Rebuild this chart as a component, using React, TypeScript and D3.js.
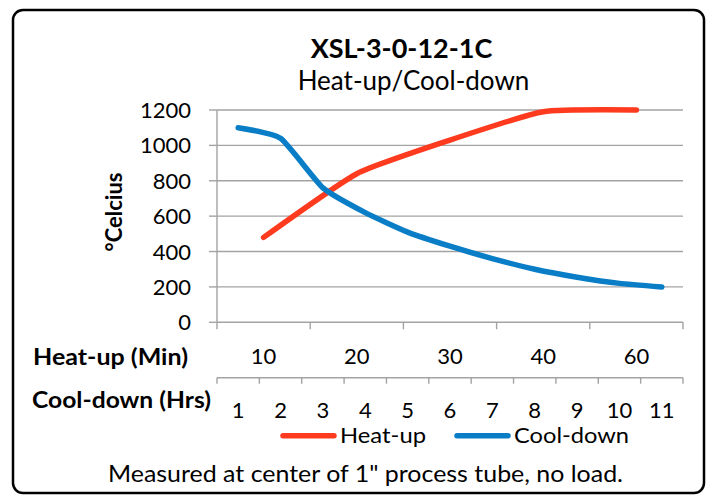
import React from 'react';
import * as d3 from 'd3';

const heatLabels = ['10', '20', '30', '40', '60'];
const heatValues = [480, 840, 1030, 1190, 1200];
const coolLabels = ['1', '2', '3', '4', '5', '6', '7', '8', '9', '10', '11'];
const coolValues = [1100, 1040, 760, 620, 510, 430, 360, 300, 255, 220, 200];
const yTicks = [0, 200, 400, 600, 800, 1000, 1200];

const RED = '#ff3b1f';
const BLUE = '#0a7dc7';
const GRID = '#a3a3a3';
const FONT = 'Lato, "Open Sans", sans-serif';

export default function App() {
  const left = 217, right = 683;
  const y = d3.scaleLinear().domain([0, 1200]).range([322.3, 110]);
  const xHeat = d3.scaleBand().domain(heatLabels).range([left, right]);
  const xCool = d3.scaleBand().domain(coolLabels).range([left, right]);

  // Excel-ish smoothed line: loose cardinal spline
  const line = d3.line<[number, number]>()
    .x(d => d[0])
    .y(d => d[1])
    .curve(d3.curveCardinal.tension(0.5));

  const heatPts: [number, number][] = heatLabels.map((l, i) => [xHeat(l)! + xHeat.bandwidth() / 2, y(heatValues[i])]);
  const coolPts: [number, number][] = coolLabels.map((l, i) => [xCool(l)! + xCool.bandwidth() / 2, y(coolValues[i])]);

  const heatTicks = [...heatLabels.map(l => xHeat(l)!), right];
  const coolTicks = [...coolLabels.map(l => xCool(l)!), right];
  const axis2 = 377.7;

  return (
    <svg width={709} height={495} style={{ position: 'absolute', left: 0, top: 0, fontFamily: FONT }}>
      <rect x={13} y={10} width={691} height={483} rx={10} fill="#fff" stroke="#000" strokeWidth={2.5} />

      <text x={401.5} y={58} textAnchor="middle" fontSize={27} fontWeight="bold">XSL-3-0-12-1C</text>
      <text x={413.5} y={90} textAnchor="middle" fontSize={26}>Heat-up/Cool-down</text>

      {/* grid + y axis */}
      {yTicks.filter(t => t > 0).map(t => (
        <line key={t} x1={left} x2={right} y1={y(t)} y2={y(t)} stroke={GRID} strokeWidth={1.4} />
      ))}
      <line x1={left} x2={left} y1={y(1200)} y2={y(0)} stroke={GRID} strokeWidth={1.4} />
      {yTicks.map(t => (
        <g key={t}>
          <line x1={left - 8} x2={left} y1={y(t)} y2={y(t)} stroke={GRID} strokeWidth={1.4} />
          <text x={191} y={y(t) + 8} textAnchor="end" fontSize={22}>{t}</text>
        </g>
      ))}
      <text transform="translate(122,212) rotate(-90)" textAnchor="middle" fontSize={22} fontWeight="bold">°Celcius</text>

      {/* heat-up axis */}
      <line x1={left} x2={right} y1={y(0)} y2={y(0)} stroke={GRID} strokeWidth={1.4} />
      {heatTicks.map((t, i) => (
        <line key={i} x1={t} x2={t} y1={y(0)} y2={y(0) + 7} stroke={GRID} strokeWidth={1.4} />
      ))}
      {heatLabels.map(l => (
        <text key={l} x={xHeat(l)! + xHeat.bandwidth() / 2} y={364} textAnchor="middle" fontSize={22}>{l}</text>
      ))}
      <text x={33} y={365} fontSize={23} fontWeight="bold" textLength={155} lengthAdjust="spacingAndGlyphs">Heat-up (Min)</text>

      {/* cool-down axis */}
      <line x1={left} x2={right} y1={axis2} y2={axis2} stroke={GRID} strokeWidth={1.4} />
      {coolTicks.map((t, i) => (
        <line key={i} x1={t} x2={t} y1={axis2} y2={axis2 + 6} stroke={GRID} strokeWidth={1.4} />
      ))}
      {coolLabels.map(l => (
        <text key={l} x={xCool(l)! + xCool.bandwidth() / 2} y={418} textAnchor="middle" fontSize={22}>{l}</text>
      ))}
      <text x={32} y={408} fontSize={23} fontWeight="bold" textLength={179} lengthAdjust="spacingAndGlyphs">Cool-down (Hrs)</text>

      {/* series */}
      <path d={line(heatPts)!} fill="none" stroke={RED} strokeWidth={5.5} strokeLinecap="round" strokeLinejoin="round" />
      <path d={line(coolPts)!} fill="none" stroke={BLUE} strokeWidth={5.5} strokeLinecap="round" strokeLinejoin="round" />

      {/* legend */}
      <line x1={283} x2={334} y1={435.7} y2={435.7} stroke={RED} strokeWidth={5.5} strokeLinecap="round" />
      <text x={340} y={443} fontSize={22} textLength={86} lengthAdjust="spacingAndGlyphs">Heat-up</text>
      <line x1={457} x2={508} y1={435.7} y2={435.7} stroke={BLUE} strokeWidth={5.5} strokeLinecap="round" />
      <text x={514} y={443} fontSize={22} textLength={115} lengthAdjust="spacingAndGlyphs">Cool-down</text>

      <text x={108} y={482} fontSize={22.5} textLength={515} lengthAdjust="spacingAndGlyphs">Measured at center of 1" process tube, no load.</text>
    </svg>
  );
}
